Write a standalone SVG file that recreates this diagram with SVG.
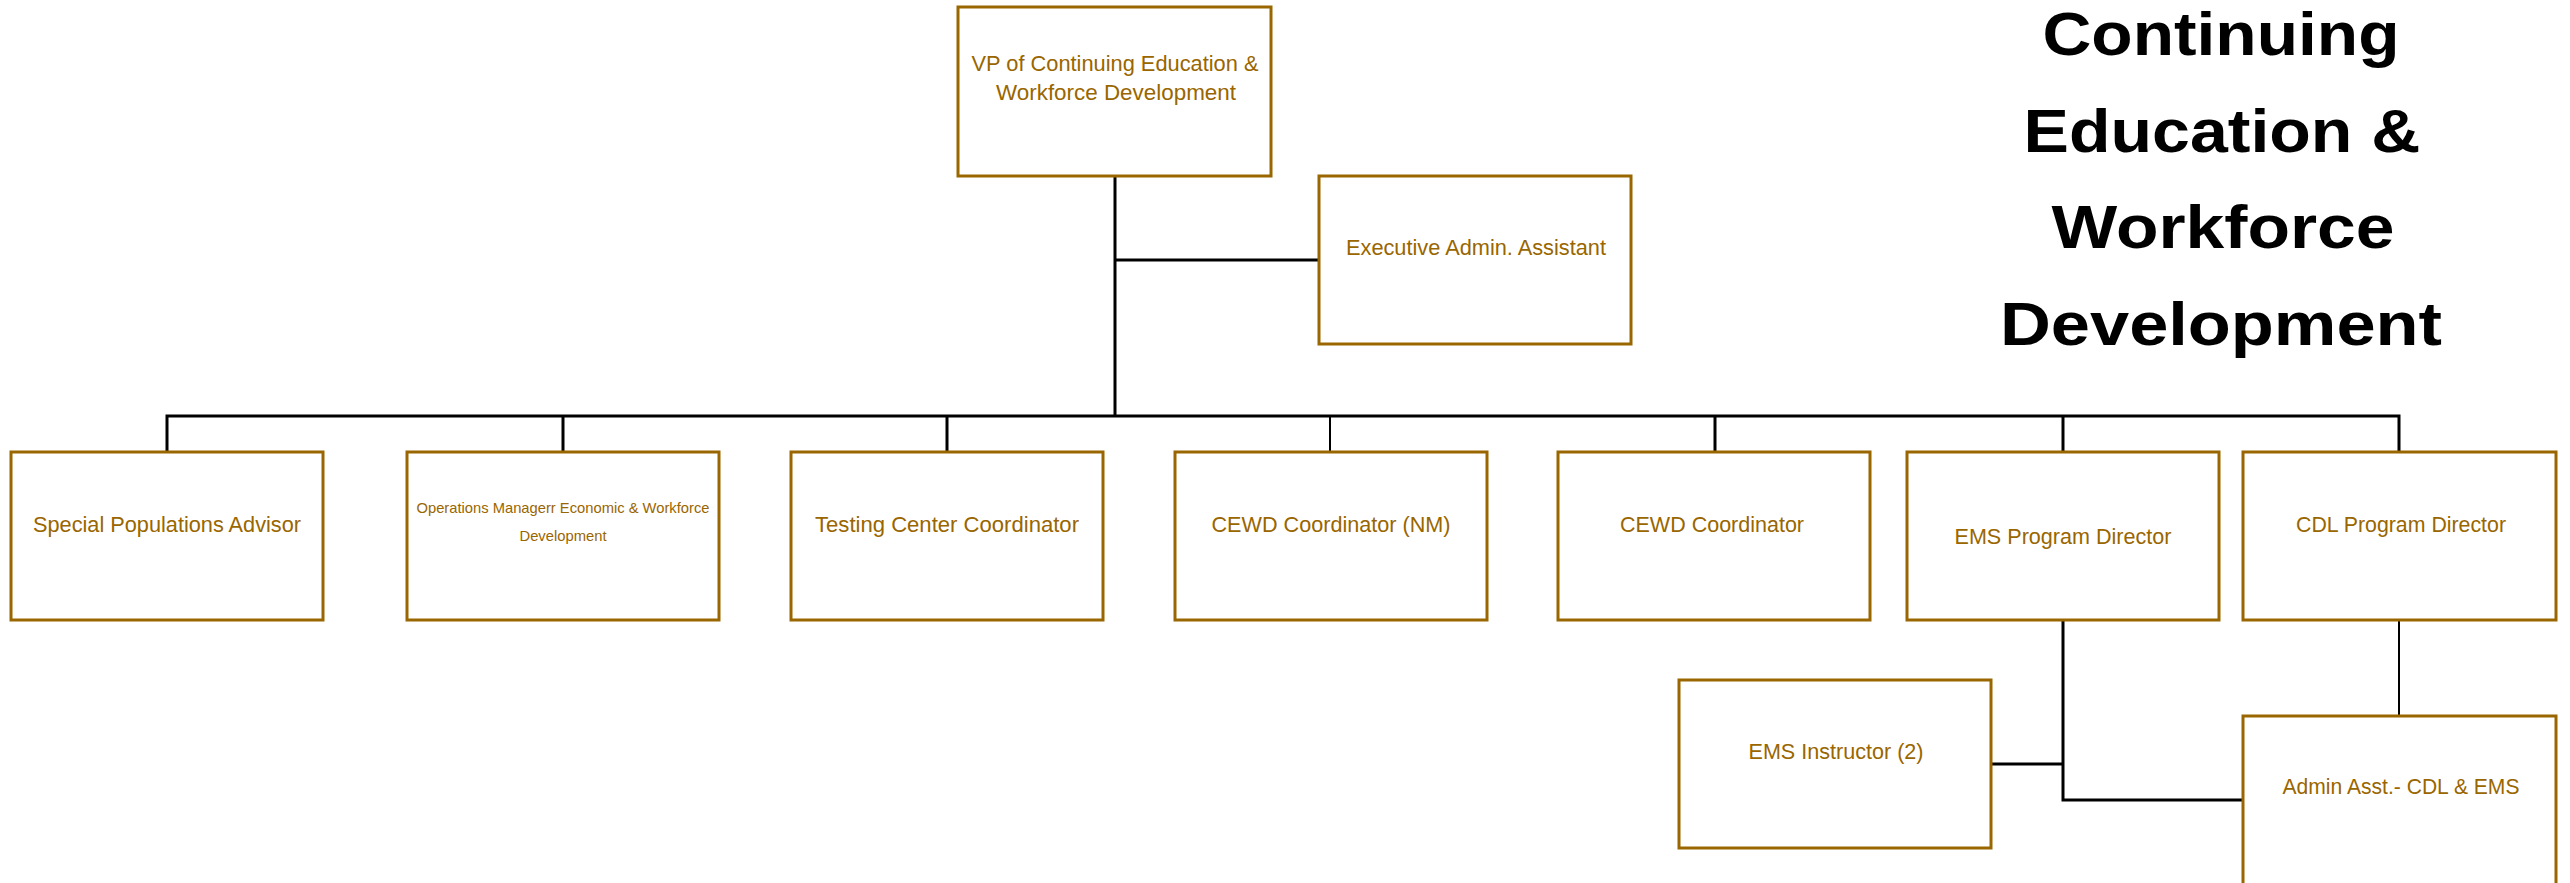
<svg xmlns="http://www.w3.org/2000/svg" width="2570" height="883" viewBox="0 0 2570 883">
<style>
.box{fill:#fff;stroke:#996600;stroke-width:3}
.lbl{font-family:"Liberation Sans",Arial,sans-serif;font-size:22px;fill:#996600;text-anchor:middle}
.sm{font-size:15px}
.ttl{font-family:"Liberation Sans",Arial,sans-serif;font-size:61px;font-weight:bold;fill:#000;text-anchor:middle}
.con{fill:none;stroke:#000;stroke-width:3}
.thin{stroke-width:2}
</style>
<rect width="2570" height="883" fill="#fff"/>
<g id="connectors">
<path class="con" d="M1115 176 V416"/>
<path class="con" d="M1115 260 H1319"/>
<path class="con" d="M167 452 V416 H2399 V452"/>
<path class="con" d="M563 416 V452"/>
<path class="con" d="M947 416 V452"/>
<path class="con thin" d="M1330 416 V452"/>
<path class="con" d="M1715 416 V452"/>
<path class="con" d="M2063 416 V452"/>
<path class="con" d="M2063 620 V800 H2243"/>
<path class="con" d="M1991 764 H2063"/>
<path class="con thin" d="M2399 620 V716"/>
</g>
<g id="title">
<text class="ttl" x="2221" y="55" textLength="357" lengthAdjust="spacingAndGlyphs">Continuing</text>
<text class="ttl" x="2222" y="152" textLength="397" lengthAdjust="spacingAndGlyphs">Education &amp;</text>
<text class="ttl" x="2223" y="248" textLength="343" lengthAdjust="spacingAndGlyphs">Workforce</text>
<text class="ttl" x="2221" y="345" textLength="442" lengthAdjust="spacingAndGlyphs">Development</text>
</g>
<g id="vp">
<rect class="box" x="958" y="7" width="313" height="169"/>
<text class="lbl" x="1115" y="71" textLength="287" lengthAdjust="spacingAndGlyphs">VP of Continuing Education &amp;</text>
<text class="lbl" x="1116" y="100" textLength="240" lengthAdjust="spacingAndGlyphs">Workforce Development</text>
</g>
<g id="exec">
<rect class="box" x="1319" y="176" width="312" height="168"/>
<text class="lbl" x="1476" y="255" textLength="260" lengthAdjust="spacingAndGlyphs">Executive Admin. Assistant</text>
</g>
<g id="spa">
<rect class="box" x="11" y="452" width="312" height="168"/>
<text class="lbl" x="167" y="532" textLength="268" lengthAdjust="spacingAndGlyphs">Special Populations Advisor</text>
</g>
<g id="ops">
<rect class="box" x="407" y="452" width="312" height="168"/>
<text class="lbl sm" x="563" y="513" textLength="293" lengthAdjust="spacingAndGlyphs">Operations Managerr Economic &amp; Workforce</text>
<text class="lbl sm" x="563" y="541" textLength="87" lengthAdjust="spacingAndGlyphs">Development</text>
</g>
<g id="testing">
<rect class="box" x="791" y="452" width="312" height="168"/>
<text class="lbl" x="947" y="532" textLength="264" lengthAdjust="spacingAndGlyphs">Testing Center Coordinator</text>
</g>
<g id="cewdnm">
<rect class="box" x="1175" y="452" width="312" height="168"/>
<text class="lbl" x="1331" y="532" textLength="239" lengthAdjust="spacingAndGlyphs">CEWD Coordinator (NM)</text>
</g>
<g id="cewd">
<rect class="box" x="1558" y="452" width="312" height="168"/>
<text class="lbl" x="1712" y="532" textLength="184" lengthAdjust="spacingAndGlyphs">CEWD Coordinator</text>
</g>
<g id="ems">
<rect class="box" x="1907" y="452" width="312" height="168"/>
<text class="lbl" x="2063" y="544" textLength="217" lengthAdjust="spacingAndGlyphs">EMS Program Director</text>
</g>
<g id="cdl">
<rect class="box" x="2243" y="452" width="313" height="168"/>
<text class="lbl" x="2401" y="532" textLength="210" lengthAdjust="spacingAndGlyphs">CDL Program Director</text>
</g>
<g id="emsinstr">
<rect class="box" x="1679" y="680" width="312" height="168"/>
<text class="lbl" x="1836" y="759" textLength="175" lengthAdjust="spacingAndGlyphs">EMS Instructor (2)</text>
</g>
<g id="admin">
<rect class="box" x="2243" y="716" width="313" height="172"/>
<text class="lbl" x="2401" y="794" textLength="237" lengthAdjust="spacingAndGlyphs">Admin Asst.- CDL &amp; EMS</text>
</g>
</svg>
